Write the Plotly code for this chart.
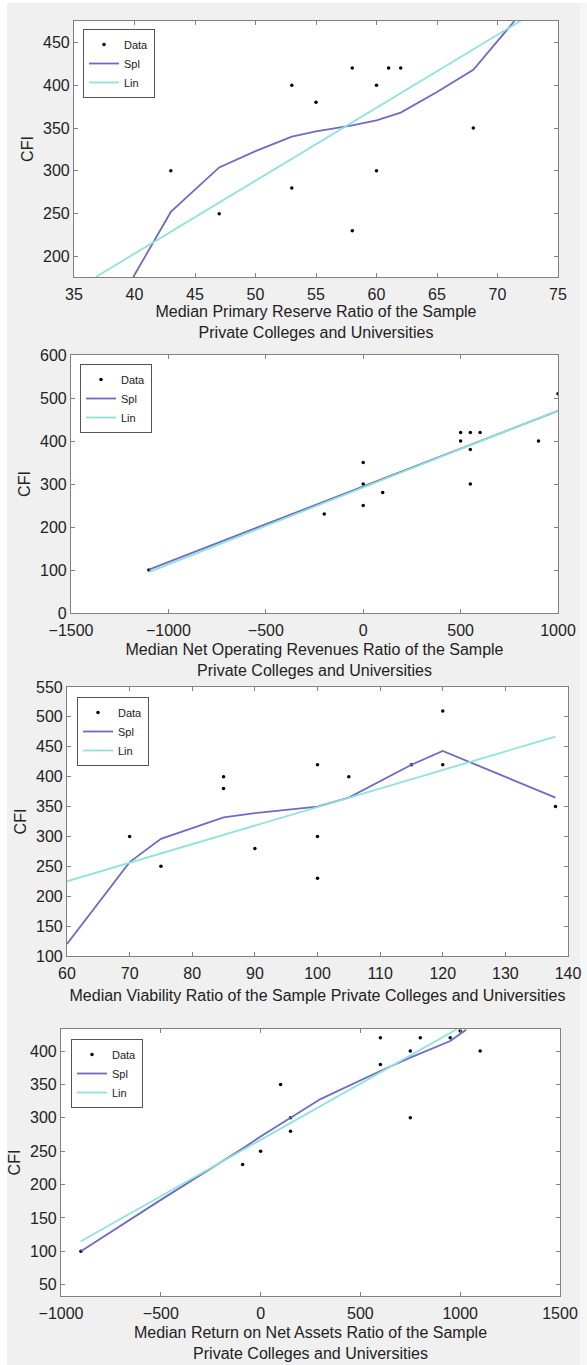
import plotly.graph_objects as go

W, H = 587, 1365

# ---------------- data ----------------
# Panel 1: Primary Reserve Ratio
p1_data_x = [43, 47, 53, 53, 55, 58, 58, 60, 60, 61, 62, 68]
p1_data_y = [300, 250, 400, 280, 380, 420, 230, 400, 300, 420, 420, 350]
p1_spl_x = [39.9, 43, 47, 50, 53, 55, 58, 60, 62, 65, 68, 71.4]
p1_spl_y = [176, 252, 304, 323, 340, 346, 353, 359, 368, 392, 418, 475]
p1_lin_x = [36.8, 71.9]
p1_lin_y = [176, 475]

# Panel 2: Net Operating Revenues Ratio
p2_data_x = [-1100, -200, 0, 0, 0, 100, 500, 500, 550, 550, 550, 600, 900, 1000]
p2_data_y = [100, 230, 350, 300, 250, 280, 420, 400, 420, 380, 300, 420, 400, 510]
p2_spl_x = [-1100, 1000]
p2_spl_y = [101, 470]
p2_lin_x = [-1100, 1000]
p2_lin_y = [95, 471]

# Panel 3: Viability Ratio
p3_data_x = [70, 75, 85, 85, 90, 100, 100, 100, 105, 115, 120, 120, 138]
p3_data_y = [300, 250, 400, 380, 280, 420, 300, 230, 400, 420, 510, 420, 350]
p3_spl_x = [60, 70, 75, 85, 90, 100, 105, 115, 120, 138]
p3_spl_y = [120, 257, 296, 332, 339, 350, 365, 420, 443, 365]
p3_lin_x = [60, 138]
p3_lin_y = [225, 467]

# Panel 4: Return on Net Assets Ratio
p4_data_x = [-900, -90, 0, 100, 150, 150, 600, 600, 750, 750, 800, 950, 1000, 1100]
p4_data_y = [100, 230, 250, 350, 300, 280, 420, 380, 400, 300, 420, 420, 430, 400]
p4_spl_x = [-900, -500, -90, 0, 150, 300, 600, 750, 950, 1030]
p4_spl_y = [100, 177, 254, 272, 300, 328, 370, 390, 415, 432]
p4_lin_x = [-900, 985]
p4_lin_y = [115, 433]

x_titles = [
    "Median Primary Reserve Ratio of the Sample<br>Private Colleges and Universities",
    "Median Net Operating Revenues Ratio of the Sample<br>Private Colleges and Universities",
    "Median Viability Ratio of the Sample Private Colleges and Universities",
    "Median Return on Net Assets Ratio of the Sample<br>Private Colleges and Universities",
]
x_ranges = [[35, 75], [-1500, 1000], [60, 140], [-1000, 1500]]
x_dticks = [5, 500, 10, 500]
y_ranges = [[176, 475], [0, 600], [100, 550], [33, 433]]
y_tick_vals = [
    [200, 250, 300, 350, 400, 450],
    [0, 100, 200, 300, 400, 500, 600],
    [100, 150, 200, 250, 300, 350, 400, 450, 500, 550],
    [50, 100, 150, 200, 250, 300, 350, 400],
]

# plot-area pixel boxes (left, right, top, bottom)
boxes = [(74, 558, 21, 277), (71, 558, 355, 613), (67, 568, 687, 956), (61, 560, 1029, 1296)]
legend_pos = [(83, 29), (80, 364), (77, 697), (71, 1039)]
x_standoff = [2, 5, 8, 5]
y_standoff = [5, 5, 5, 5]

panels = [
    (p1_data_x, p1_data_y, p1_spl_x, p1_spl_y, p1_lin_x, p1_lin_y),
    (p2_data_x, p2_data_y, p2_spl_x, p2_spl_y, p2_lin_x, p2_lin_y),
    (p3_data_x, p3_data_y, p3_spl_x, p3_spl_y, p3_lin_x, p3_lin_y),
    (p4_data_x, p4_data_y, p4_spl_x, p4_spl_y, p4_lin_x, p4_lin_y),
]

SPL_COLOR = "#6f6bc3"
LIN_COLOR = "#8fe3da"
FONT = "Liberation Sans, Arial, Helvetica, sans-serif"

fig = go.Figure()
layout = dict(
    width=W, height=H, autosize=False,
    margin=dict(l=0, r=0, t=0, b=0, autoexpand=False),
    paper_bgcolor="#f0f0f0",
    plot_bgcolor="white",
    font=dict(family=FONT, size=16, color="#222222"),
    showlegend=True,
    shapes=[
        dict(type="rect", xref="paper", yref="paper", x0=0, x1=7 / W, y0=0, y1=1,
             fillcolor="white", line=dict(width=0), layer="below"),
        dict(type="rect", xref="paper", yref="paper", x0=0, x1=1, y0=1 - 3 / H, y1=1,
             fillcolor="white", line=dict(width=0), layer="below"),
        dict(type="rect", xref="paper", yref="paper", x0=580 / W, x1=1, y0=0, y1=1 - 3 / H,
             fillcolor="#f6f6f6", line=dict(width=0), layer="below"),
    ],
)

for i, (dx, dy, sx, sy, lx, ly) in enumerate(panels):
    n = "" if i == 0 else str(i + 1)
    xa, ya = "x" + n, "y" + n
    leg = "legend" + n
    fig.add_trace(go.Scatter(x=dx, y=dy, mode="markers", name="Data",
                             marker=dict(color="black", size=3.5),
                             xaxis=xa, yaxis=ya, legend=leg))
    fig.add_trace(go.Scatter(x=sx, y=sy, mode="lines", name="Spl",
                             line=dict(color=SPL_COLOR, width=1.8),
                             xaxis=xa, yaxis=ya, legend=leg))
    fig.add_trace(go.Scatter(x=lx, y=ly, mode="lines", name="Lin",
                             line=dict(color=LIN_COLOR, width=1.8),
                             xaxis=xa, yaxis=ya, legend=leg))
    l, r, t, b = boxes[i]
    common = dict(showline=True, linecolor="#808080", linewidth=1.2, mirror="ticks",
                  ticks="inside", ticklen=4, tickcolor="#808080", showgrid=False,
                  zeroline=False, automargin=False,
                  tickfont=dict(size=16, color="#222222"))
    layout["xaxis" + n] = dict(common, domain=[l / W, r / W], range=x_ranges[i],
                               tick0=x_ranges[i][0], dtick=x_dticks[i], anchor=ya,
                               ticklabelstandoff=3,
                               title=dict(text=x_titles[i], standoff=x_standoff[i],
                                          font=dict(size=16)))
    layout["yaxis" + n] = dict(common, domain=[1 - b / H, 1 - t / H], range=y_ranges[i],
                               tickvals=y_tick_vals[i], anchor=xa,
                               title=dict(text="CFI", standoff=y_standoff[i],
                                          font=dict(size=16)))
    lx0, ly0 = legend_pos[i]
    layout[leg] = dict(x=lx0 / W, y=1 - ly0 / H, xanchor="left", yanchor="top",
                       bgcolor="white", bordercolor="#555555", borderwidth=1,
                       font=dict(size=11, color="#222222"), itemwidth=30,
                       tracegroupgap=0)

fig.update_layout(**layout)
fig.write_html(
    "out.html",
    config={"responsive": False},
    post_script="document.body.style.margin='0';",
)
